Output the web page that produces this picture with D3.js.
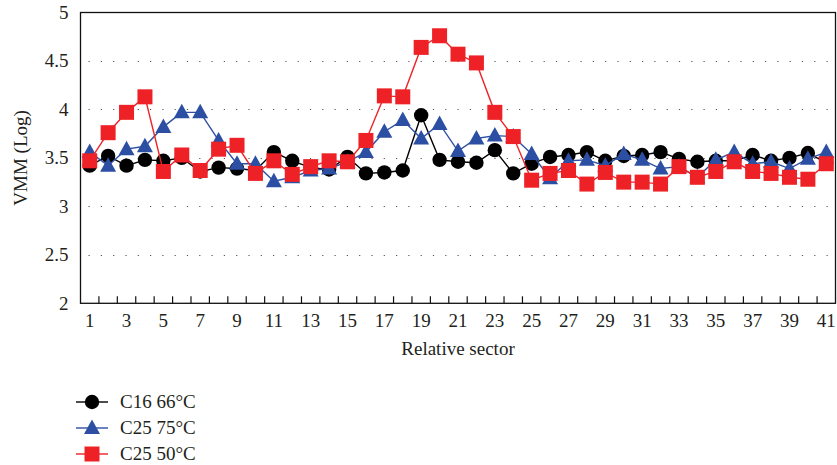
<!DOCTYPE html>
<html>
<head>
<meta charset="utf-8">
<script src="https://cdn.jsdelivr.net/npm/d3@7"></script>
<style>
  body { margin: 0; background: #fff; }
  text { font-family: "Liberation Serif", "DejaVu Serif", serif; fill: #231f20; }
</style>
</head>
<body>
<div id="vis"></div>
<script>
var sectors = d3.range(1, 42);
var yTicks = [2, 2.5, 3, 3.5, 4, 4.5, 5];

var c16_66 = [3.42, 3.52, 3.42, 3.48, 3.47, 3.50, 3.36, 3.40, 3.39, 3.37,
	3.56, 3.47, 3.40, 3.38, 3.51, 3.34, 3.35, 3.37, 3.94, 3.48,
	3.46, 3.45, 3.58, 3.34, 3.44, 3.51, 3.53, 3.56, 3.47, 3.52,
	3.53, 3.56, 3.49, 3.46, 3.47, 3.47, 3.53, 3.47, 3.50, 3.55, 3.45];
var c25_75 = [3.56, 3.42, 3.59, 3.62, 3.82, 3.97, 3.97, 3.68, 3.44, 3.44,
	3.26, 3.30, 3.37, 3.39, 3.46, 3.56, 3.77, 3.89, 3.70, 3.85,
	3.57, 3.70, 3.73, 3.72, 3.54, 3.29, 3.47, 3.48, 3.42, 3.54,
	3.48, 3.39, 3.41, 3.30, 3.48, 3.56, 3.44, 3.46, 3.39, 3.49, 3.56];
var c25_50 = [3.47, 3.76, 3.97, 4.13, 3.36, 3.53, 3.37, 3.59, 3.63, 3.34,
	3.47, 3.33, 3.41, 3.47, 3.46, 3.68, 4.14, 4.13, 4.64, 4.76,
	4.57, 4.48, 3.97, 3.72, 3.27, 3.34, 3.37, 3.23, 3.35, 3.25,
	3.25, 3.23, 3.41, 3.30, 3.36, 3.46, 3.36, 3.34, 3.30, 3.28, 3.44];

var seriesNames = ['C16 66\u00b0C', 'C25 75\u00b0C', 'C25 50\u00b0C'];
var seriesValues = [c16_66, c25_75, c25_50];
var seriesColors = ['#000000', '#2c4fa3', '#ee2226'];
var seriesShapes = ['circle', 'triangle', 'square'];

var width = 837,
	height = 465,
	fontSize = 19;

var margin = { left: 80.5, top: 12.5, right: 1.5, bottom: 162 };

var svg = d3.select('#vis')
	.append('svg')
	.attr('width', width)
	.attr('height', height);

var x = d3.scaleBand()
	.domain(sectors)
	.range([margin.left, width - margin.right]);

var y = d3.scaleLinear()
	.domain([2, 5])
	.range([height - margin.bottom + 0.3, margin.top]);

// dotted gridlines
svg.append('g')
	.selectAll('line')
	.data(yTicks.slice(1, -1))
	.enter().append('line')
	.attr('x1', margin.left + 8)
	.attr('x2', width - margin.right)
	.attr('y1', function(d) { return Math.round(y(d)) + 0.5; })
	.attr('y2', function(d) { return Math.round(y(d)) + 0.5; })
	.attr('stroke', '#555')
	.attr('stroke-width', 1.2)
	.attr('stroke-dasharray', '1.2,11.1');

// frame
svg.append('rect')
	.attr('x', margin.left)
	.attr('y', y(5))
	.attr('width', width - margin.right - margin.left)
	.attr('height', y(2) - y(5))
	.attr('fill', 'none')
	.attr('stroke', '#111')
	.attr('stroke-width', 1.3);

// y axis labels
svg.append('g')
	.selectAll('text')
	.data(yTicks)
	.enter().append('text')
	.attr('x', margin.left - 12)
	.attr('y', function(d) { return y(d); })
	.attr('dy', '0.34em')
	.attr('text-anchor', 'end')
	.attr('font-size', fontSize)
	.text(function(d) { return d; });

// x axis: ticks between categories, pointing up
var xAxis = d3.axisBottom(x)
	.tickValues(sectors.filter(function(d) { return d % 2 == 1; }))
	.tickSize(0)
	.tickPadding(10);

var gx = svg.append('g')
	.attr('transform', 'translate(0,' + y(2) + ')')
	.call(xAxis);
gx.select('.domain').remove();
gx.selectAll('text')
	.attr('font-family', '"Liberation Serif", serif')
	.attr('font-size', fontSize)
	.attr('fill', '#231f20');

svg.append('g')
	.selectAll('line')
	.data(sectors.slice(1))
	.enter().append('line')
	.attr('x1', function(d) { return x(d); })
	.attr('x2', function(d) { return x(d); })
	.attr('y1', y(2))
	.attr('y2', y(2) - 7)
	.attr('stroke', '#111')
	.attr('stroke-width', 1.2);

svg.append('text')
	.attr('x', x(21) + x.bandwidth() / 2)
	.attr('y', 355)
	.attr('text-anchor', 'middle')
	.attr('font-size', fontSize)
	.text('Relative sector');

svg.append('text')
	.attr('transform', 'translate(27,' + y(3.5) + ') rotate(-90)')
	.attr('text-anchor', 'middle')
	.attr('font-size', fontSize)
	.text('VMM (Log)');

var drawMarker = function(sel, shape, color) {
	if (shape == 'circle') {
		sel.append('circle').attr('r', 7.2).attr('fill', color);
	} else if (shape == 'square') {
		sel.append('rect')
			.attr('x', -7.5).attr('y', -7.5)
			.attr('width', 15).attr('height', 15)
			.attr('fill', color);
	} else {
		sel.append('path')
			.attr('d', 'M0,-8.5L8,6L-8,6Z')
			.attr('fill', color);
	}
};

var line = d3.line()
	.x(function(d, i) { return x(sectors[i]) + x.bandwidth() / 2; })
	.y(function(d) { return y(d); });

seriesValues.forEach(function(vals, s) {
	svg.append('path')
		.datum(vals)
		.attr('d', line)
		.attr('fill', 'none')
		.attr('stroke', seriesColors[s])
		.attr('stroke-width', 1.4);

	var pts = svg.append('g')
		.selectAll('g')
		.data(vals)
		.enter().append('g')
		.attr('transform', function(d, i) {
			return 'translate(' + (x(sectors[i]) + x.bandwidth() / 2) + ',' + y(d) + ')';
		});
	drawMarker(pts, seriesShapes[s], seriesColors[s]);
});

// legend
var legend = svg.append('g')
	.selectAll('g')
	.data(seriesNames)
	.enter().append('g')
	.attr('transform', function(d, i) { return 'translate(92,' + (402 + i * 26) + ')'; });

legend.append('line')
	.attr('x1', -16)
	.attr('x2', 16)
	.attr('stroke', function(d, i) { return seriesColors[i]; })
	.attr('stroke-width', 1.4);

legend.each(function(d, i) {
	drawMarker(d3.select(this), seriesShapes[i], seriesColors[i]);
});

legend.append('text')
	.attr('x', 28)
	.attr('dy', '0.34em')
	.attr('font-size', fontSize)
	.text(function(d) { return d; });
</script>
</body>
</html>
